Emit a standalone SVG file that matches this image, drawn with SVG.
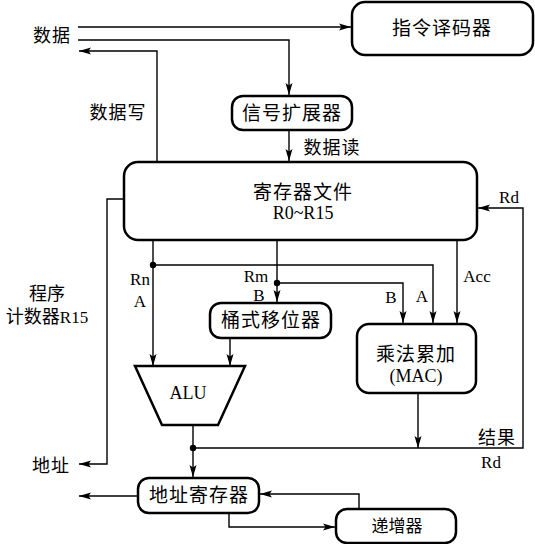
<svg xmlns="http://www.w3.org/2000/svg" width="535" height="544" viewBox="0 0 535 544">
<style>
.box{fill:#fff;stroke:#000;stroke-width:2.5}
.ln{fill:none;stroke:#000;stroke-width:1.4}
.cn{font-family:"Liberation Serif","Noto Sans CJK SC",serif;font-size:18px;fill:#000}
.la{font-family:"Liberation Serif","Noto Sans CJK SC",serif;font-size:17px;fill:#000}
.m{text-anchor:middle}
</style>
<defs>
<marker id="ah" markerUnits="userSpaceOnUse" markerWidth="13" markerHeight="8" refX="12" refY="4" orient="auto">
<path d="M0,0.5 L12,4 L0,7.5 L2.5,4 Z" fill="#000"/>
</marker>
</defs>
<rect width="535" height="544" fill="#fff"/>
<g id="connectors">
<path class="ln" d="M78,27 H351" marker-end="url(#ah)"/>
<path class="ln" d="M78,40 H289 V95" marker-end="url(#ah)"/>
<path class="ln" d="M157,162 V51 H79" marker-end="url(#ah)"/>
<path class="ln" d="M289,130 V161" marker-end="url(#ah)"/>
<path class="ln" d="M124,199 H107 V464 H79" marker-end="url(#ah)"/>
<path class="ln" d="M153,240 V366" marker-end="url(#ah)"/>
<path class="ln" d="M153,265 H433 V323" marker-end="url(#ah)"/>
<path class="ln" d="M277,240 V302" marker-end="url(#ah)"/>
<path class="ln" d="M277,283 H403 V323" marker-end="url(#ah)"/>
<path class="ln" d="M457,240 V323" marker-end="url(#ah)"/>
<path class="ln" d="M230,338 V366" marker-end="url(#ah)"/>
<path class="ln" d="M418,393 V448" marker-end="url(#ah)"/>
<path class="ln" d="M193,448 H523 V208 H478" marker-end="url(#ah)"/>
<path class="ln" d="M193,425 V477" marker-end="url(#ah)"/>
<path class="ln" d="M138,496 H79" marker-end="url(#ah)"/>
<path class="ln" d="M229,513 V527 H335" marker-end="url(#ah)"/>
<path class="ln" d="M359,509 V494 H260" marker-end="url(#ah)"/>
<circle cx="153" cy="265" r="3.2"/>
<circle cx="277" cy="283" r="3.2"/>
<circle cx="193" cy="448" r="3.2"/>
</g>
<g id="decoder">
<rect class="box" x="352" y="2" width="181" height="53" rx="13"/>
<text class="cn m" x="442" y="35" style="font-size:19px;letter-spacing:1px">指令译码器</text>
</g>
<g id="signext">
<rect class="box" x="232" y="96" width="120" height="34" rx="11"/>
<text class="cn m" x="292" y="120" style="font-size:19px;letter-spacing:1px">信号扩展器</text>
</g>
<g id="regfile">
<rect class="box" x="124" y="162" width="353" height="78" rx="14"/>
<text class="cn m" x="303" y="199" style="font-size:19px;letter-spacing:1px">寄存器文件</text>
<text class="la m" x="303" y="219" style="font-size:18px">R0~R15</text>
</g>
<g id="shifter">
<rect class="box" x="210" y="303" width="121" height="35" rx="11"/>
<text class="cn m" x="271" y="327" style="font-size:19px;letter-spacing:1px">桶式移位器</text>
</g>
<g id="mac">
<rect class="box" x="357" y="324" width="119" height="69" rx="12"/>
<text class="cn m" x="416" y="361" style="font-size:19px;letter-spacing:1px">乘法累加</text>
<text class="la m" x="416" y="382" style="font-size:18px">(MAC)</text>
</g>
<g id="alu">
<polygon class="box" points="135,366 245,366 218,425 162,425" stroke-linejoin="miter"/>
<text class="la m" x="188" y="399" style="font-size:18px">ALU</text>
</g>
<g id="addrreg">
<rect class="box" x="138" y="478" width="121" height="35" rx="11"/>
<text class="cn m" x="199" y="502" style="font-size:19px;letter-spacing:1px">地址寄存器</text>
</g>
<g id="incr">
<rect class="box" x="336" y="509" width="120" height="34" rx="11"/>
<text class="cn m" x="397" y="532" style="font-size:17px">递增器</text>
</g>
<g id="labels">
<text class="cn m" x="52" y="42" style="letter-spacing:1px">数据</text>
<text class="cn m" x="118" y="119" style="letter-spacing:1px">数据写</text>
<text class="cn m" x="332" y="154" style="letter-spacing:1px">数据读</text>
<text class="cn m" x="51" y="472" style="letter-spacing:1px">地址</text>
<text class="cn m" x="47" y="300">程序</text>
<text class="cn m" x="47" y="323">计数器<tspan style="font-size:17px">R15</tspan></text>
<text class="la m" x="140" y="285">Rn</text>
<text class="la m" x="140" y="307">A</text>
<text class="la m" x="256" y="282">Rm</text>
<text class="la m" x="259" y="301">B</text>
<text class="la m" x="391" y="303">B</text>
<text class="la m" x="422" y="302">A</text>
<text class="la m" x="477" y="282">Acc</text>
<text class="la m" x="509" y="203">Rd</text>
<text class="cn m" x="497" y="444" style="letter-spacing:1px">结果</text>
<text class="la m" x="491" y="468">Rd</text>
</g>
</svg>
